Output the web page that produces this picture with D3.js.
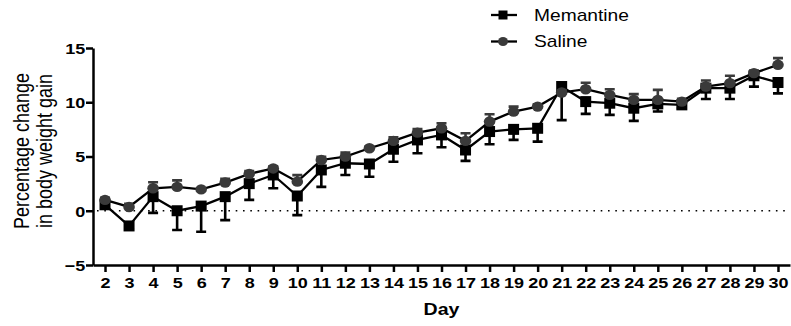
<!DOCTYPE html>
<html>
<head>
<meta charset="utf-8">
<script src="https://cdn.jsdelivr.net/npm/d3@7"></script>
<style>
  body { margin: 0; background: #fff; }
  svg { font-family: "Liberation Sans", Arial, sans-serif; }
</style>
</head>
<body>
<div class="chart"></div>
<script>
// days on the x axis
let days = [2, 3, 4, 5, 6, 7, 8, 9, 10, 11, 12, 13, 14, 15, 16, 17, 18, 19, 20, 21, 22, 23, 24, 25, 26, 27, 28, 29, 30];

// Memantine mean and SEM (error bar drawn below)
let memantine = [0.55, -1.4, 1.3, 0.0, 0.43, 1.3, 2.5, 3.3, 1.36, 3.76, 4.38, 4.31, 5.67, 6.53, 6.99, 5.6, 7.3, 7.5, 7.6, 11.45, 10.06, 9.91, 9.45, 9.85, 9.76, 11.3, 11.3, 12.44, 11.82];
let memantineSem = [0.3, 0.3, 1.5, 1.78, 2.37, 2.16, 1.5, 1.23, 1.76, 1.56, 1.08, 1.17, 1.15, 1.23, 1.14, 1.0, 1.17, 0.97, 1.23, 3.1, 1.13, 1.07, 1.17, 0.7, 0.3, 1.0, 1.0, 1.0, 1.0];

// Saline mean and SEM (error bar drawn above)
let saline = [1.0, 0.35, 2.07, 2.2, 1.97, 2.6, 3.4, 3.9, 2.68, 4.68, 4.99, 5.76, 6.44, 7.2, 7.6, 6.44, 8.22, 9.14, 9.6, 10.9, 11.2, 10.68, 10.22, 10.22, 10.06, 11.45, 11.76, 12.68, 13.45];
let salineSem = [0.2, 0.3, 0.55, 0.6, 0.1, 0.35, 0.25, 0.2, 0.6, 0.3, 0.37, 0.15, 0.33, 0.34, 0.46, 0.7, 0.68, 0.46, 0.2, 0.2, 0.6, 0.52, 0.53, 0.92, 0.25, 0.55, 0.68, 0.25, 0.62];

let yTicks = [-5, 0, 5, 10, 15];

let width = 791;
let height = 326;
let margin = { top: 48, right: 1, bottom: 61, left: 93 };
// the original figure is slightly stretched sideways, text included
let stretch = 'scale(1.2,1)';

let svg = d3.select('.chart')
  .append('svg')
  .attr('width', width)
  .attr('height', height);

let xScale = d3.scaleLinear()
  .domain([1.5, 30.5])
  .range([margin.left, width - margin.right]);

let yScale = d3.scaleLinear()
  .domain([-5, 15])
  .range([height - margin.bottom, margin.top]);

// dotted zero line
svg.append('line')
  .attr('x1', margin.left + 4)
  .attr('x2', width - 6)
  .attr('y1', yScale(0))
  .attr('y2', yScale(0))
  .attr('stroke', '#000')
  .attr('stroke-width', 1.6)
  .attr('stroke-dasharray', '1.6 5.7');

// axes
let xAxis = svg.append('g')
  .attr('transform', 'translate(0,' + (height - margin.bottom) + ')')
  .call(d3.axisBottom(xScale).tickValues(days).tickSize(7).tickSizeOuter(0).tickFormat(d3.format('d')));

let yAxis = svg.append('g')
  .attr('transform', 'translate(' + margin.left + ',0)')
  .call(d3.axisLeft(yScale).tickValues(yTicks).tickSize(7).tickSizeOuter(0));

[xAxis, yAxis].forEach(function(ax) {
  ax.select('.domain').attr('stroke-width', 2.5);
  ax.selectAll('.tick line').attr('stroke-width', 2.5);
  ax.selectAll('.tick text')
    .attr('font-family', '"Liberation Sans", Arial, sans-serif')
    .attr('font-size', 15)
    .attr('font-weight', 'bold')
    .attr('fill', '#000')
    .attr('transform', stretch);
});
xAxis.selectAll('.tick text').attr('y', 12);
yAxis.selectAll('.tick text').attr('x', -6.5).attr('dy', '0.36em');

// axis titles
svg.append('text')
  .attr('transform', 'translate(' + xScale(16) + ',315) scale(1.15,1)')
  .attr('text-anchor', 'middle')
  .attr('font-size', 17)
  .attr('font-weight', 'bold')
  .text('Day');

let yTitle = svg.append('text')
  .attr('transform', 'translate(29,151) rotate(-90) scale(1,1.2)')
  .attr('text-anchor', 'middle')
  .attr('font-size', 18);
yTitle.append('tspan').attr('x', 0).attr('dy', 0).text('Percentage change');
yTitle.append('tspan').attr('x', 0).attr('dy', 19).text('in body weight gain');

// series
let series = [
  { name: 'Memantine', values: memantine, sem: memantineSem, dir: -1, color: '#000', shape: 'square' },
  { name: 'Saline', values: saline, sem: salineSem, dir: 1, color: '#3a3a3a', shape: 'circle' }
];

let line = d3.line()
  .x(function(d) { return xScale(d.day); })
  .y(function(d) { return yScale(d.v); });

series.forEach(function(s) {
  let pts = days.map(function(day, i) {
    return { day: day, v: s.values[i], e: s.sem[i] };
  });
  let g = svg.append('g');

  g.selectAll('.err')
    .data(pts)
    .enter().append('path')
    .attr('fill', 'none')
    .attr('stroke', s.color)
    .attr('stroke-width', 2.6)
    .attr('d', function(d) {
      let x = xScale(d.day);
      let y1 = yScale(d.v);
      let y2 = yScale(d.v + s.dir * d.e);
      return 'M' + x + ',' + y1 + 'V' + y2 + 'M' + (x - 5) + ',' + y2 + 'H' + (x + 5);
    });

  g.append('path')
    .datum(pts)
    .attr('fill', 'none')
    .attr('stroke', '#000')
    .attr('stroke-width', 2.3)
    .attr('d', line);

  if (s.shape === 'square') {
    g.selectAll('.mark')
      .data(pts)
      .enter().append('rect')
      .attr('x', function(d) { return xScale(d.day) - 5.5; })
      .attr('y', function(d) { return yScale(d.v) - 5.5; })
      .attr('width', 11)
      .attr('height', 11)
      .attr('fill', s.color);
  } else {
    g.selectAll('.mark')
      .data(pts)
      .enter().append('ellipse')
      .attr('cx', function(d) { return xScale(d.day); })
      .attr('cy', function(d) { return yScale(d.v); })
      .attr('rx', 5.8)
      .attr('ry', 5.2)
      .attr('fill', s.color);
  }
});

// legend
let legend = svg.append('g');
series.forEach(function(s, i) {
  let y = 15 + i * 26.5;
  legend.append('line')
    .attr('x1', 491).attr('x2', 517)
    .attr('y1', y).attr('y2', y)
    .attr('stroke', '#000')
    .attr('stroke-width', 2.3);
  if (s.shape === 'square') {
    legend.append('rect')
      .attr('x', 498.5).attr('y', y - 4.5)
      .attr('width', 9).attr('height', 9)
      .attr('fill', s.color);
  } else {
    legend.append('ellipse')
      .attr('cx', 503).attr('cy', y)
      .attr('rx', 5).attr('ry', 4.5)
      .attr('fill', s.color);
  }
  legend.append('text')
    .attr('transform', 'translate(534,' + y + ') ' + stretch)
    .attr('dy', '0.36em')
    .attr('font-size', 16)
    .text(s.name);
});
</script>
</body>
</html>
